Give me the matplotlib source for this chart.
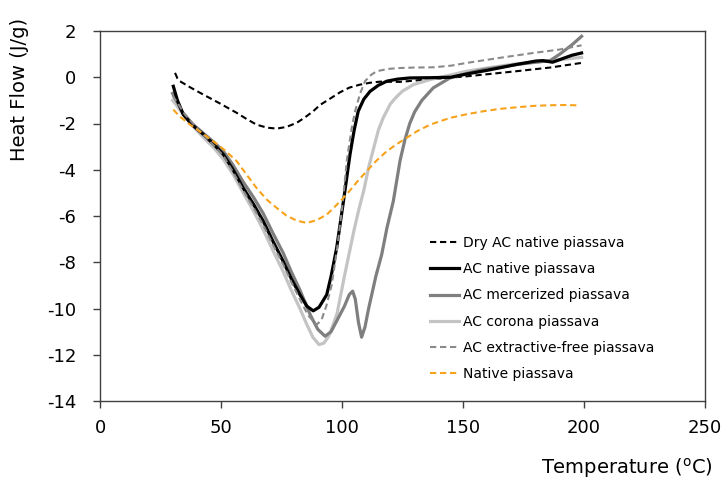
import matplotlib
matplotlib.use("Agg")
import matplotlib.pyplot as plt

plt.rcParams['font.family'] = ['DejaVu Sans']
plt.rcParams['axes.unicode_minus'] = False
plt.rcParams['mathtext.default'] = 'regular'

# ---- data ----
dry_t = [31, 32, 33, 37.5, 42.7, 49.5, 56.5, 60.5, 64.7, 69, 73, 77, 81.3, 84.5, 88.1, 90.9, 95, 99.2,
         103, 107.4, 111.5, 115.7, 124, 137, 151.5, 160, 172, 186, 199]
dry_v = [0.19, -0.05, -0.17, -0.45, -0.75, -1.13, -1.54, -1.8, -2.05, -2.18, -2.22, -2.15, -1.97, -1.75,
         -1.47, -1.2, -0.93, -0.65, -0.45, -0.32, -0.24, -0.19, -0.2, -0.08, 0.04, 0.13, 0.26, 0.42, 0.62]

acn_t = [30.3, 32, 34.4, 38, 42.7, 47, 51, 55, 59.2, 63.5, 67.5, 71.5, 75.7, 79, 82.6, 85.5, 88.1, 90.5,
         93.7, 95.5, 97.8, 100.6, 103.3, 105, 106.7, 109, 111.6, 115, 118.5, 123, 128, 136, 145, 151.5,
         160, 172, 180, 183, 187, 191, 195, 199]
acn_v = [-0.39, -1.0, -1.61, -2.05, -2.47, -2.9, -3.34, -4.0, -4.79, -5.5, -6.23, -7.1, -7.96, -8.7, -9.4,
         -9.9, -10.1, -9.95, -9.4, -8.6, -7.38, -5.36, -3.34, -2.3, -1.47, -0.95, -0.61, -0.35, -0.17, -0.08,
         -0.03, -0.02, 0.0, 0.14, 0.3, 0.55, 0.7, 0.72, 0.65, 0.8, 0.95, 1.05]

mer_t = [30, 31, 34, 38, 43, 47, 51, 55, 59, 63.5, 67.5, 71.5, 75.7, 79, 82.6, 87, 90, 93, 95.5, 98, 101,
         103, 104.4, 105.5, 106.8, 108.1, 109.5, 111, 112.3, 114, 116.4, 118.6, 121.2, 124, 126, 128, 130,
         133, 137.7, 144.6, 151, 158.4, 172, 181, 186, 190, 195, 199]
mer_v = [-0.7, -0.9, -1.5, -2.0, -2.45, -2.8, -3.2, -3.8, -4.5, -5.2, -5.9, -6.75, -7.6, -8.4, -9.2, -10.3,
         -10.9, -11.2, -11.0, -10.5, -9.9, -9.4, -9.25, -9.6, -10.6, -11.24, -10.8, -10.0, -9.4, -8.6, -7.67,
         -6.5, -5.36, -3.6, -2.7, -2.0, -1.5, -1.0, -0.46, -0.03, 0.15, 0.33, 0.55, 0.66, 0.72, 1.0, 1.4, 1.77]

cor_t = [30, 31.5, 34, 37, 42.7, 47, 51, 55, 59.2, 63.5, 67.5, 71.5, 75.7, 79, 82.6, 85.5, 88, 90.5, 92.5,
         94.5, 96, 98, 101, 103, 105, 107, 109, 111, 113, 115, 117, 120, 122.5, 125, 129.5, 136.4, 145,
         151.5, 160, 172, 186, 199]
cor_v = [-1.0, -1.2, -1.55, -1.95, -2.6, -3.05, -3.55, -4.2, -5.0, -5.8, -6.6, -7.5, -8.4, -9.2, -10.0,
         -10.7, -11.25, -11.56, -11.5, -11.2, -10.8, -10.2, -8.6, -7.6, -6.6, -5.7, -4.9, -3.9, -3.1, -2.3,
         -1.76, -1.15, -0.85, -0.6, -0.32, -0.1, 0.1, 0.26, 0.4, 0.58, 0.72, 0.86]

ext_t = [30, 32, 35, 42.7, 47, 51, 55, 59.2, 63.5, 67.5, 71.5, 75.7, 79, 82.6, 86, 89.5, 91.5, 93.5, 95.7,
         98, 100, 102, 104, 105.4, 107.5, 109.5, 112, 114.3, 119, 124, 130, 137.7, 145, 151.5, 165.3, 179,
         190, 199]
ext_v = [-0.8, -1.1, -1.6, -2.5, -2.95, -3.4, -4.1, -4.9, -5.65, -6.4, -7.25, -8.1, -8.85, -9.6, -10.3,
         -10.7, -10.5, -9.9, -9.0, -7.4, -5.7, -3.6, -2.2, -1.47, -0.7, -0.17, 0.1, 0.26, 0.36, 0.4, 0.42,
         0.43, 0.5, 0.62, 0.84, 1.05, 1.2, 1.38]

nat_t = [30.3, 33, 37.2, 42, 46.8, 51.5, 56.5, 60.5, 64.7, 69, 73, 77, 81.3, 85.4, 89.5, 93.7, 97.5, 101.9,
         106, 110.2, 114.3, 118.5, 122.5, 126.7, 130.9, 136.4, 144.6, 151.5, 158.4, 165, 172, 179, 186, 193,
         198.3]
nat_v = [-1.4, -1.7, -2.05, -2.4, -2.77, -3.15, -3.63, -4.2, -4.79, -5.3, -5.65, -5.98, -6.2, -6.3, -6.18,
         -5.94, -5.55, -5.07, -4.55, -4.06, -3.6, -3.2, -2.9, -2.62, -2.34, -2.05, -1.76, -1.6, -1.47, -1.37,
         -1.3, -1.24, -1.21, -1.2, -1.22]

labels = ["Dry AC native piassava", "AC native piassava", "AC mercerized piassava",
          "AC corona piassava", "AC extractive-free piassava", "Native piassava"]
x_ticks = [0, 50, 100, 150, 200, 250]
y_ticks = [2, 0, -2, -4, -6, -8, -10, -12, -14]

# ---- figure ----
fig = plt.figure(figsize=(7.24, 4.82), dpi=100)
ax = fig.add_axes([100 / 724, 1 - 401 / 482, 605 / 724, 370 / 482])

ax.plot(dry_t, dry_v, color='black', lw=1.5, ls=(0, (3, 1.8)), label=labels[0], zorder=3)
ax.plot(acn_t, acn_v, color='black', lw=2.3, label=labels[1], zorder=5)
ax.plot(mer_t, mer_v, color='#7f7f7f', lw=2.3, label=labels[2], zorder=4)
ax.plot(cor_t, cor_v, color='#c4c4c4', lw=2.3, label=labels[3], zorder=3)
ax.plot(ext_t, ext_v, color='#8a8a8a', lw=1.5, ls=(0, (3, 1.8)), label=labels[4], zorder=6)
ax.plot(nat_t, nat_v, color='#f7a21b', lw=1.5, ls=(0, (3, 1.8)), label=labels[5], zorder=6)

ax.set_xlim(0, 250)
ax.set_ylim(-14, 2)
ax.set_xticks(x_ticks)
ax.set_yticks(y_ticks)
ax.tick_params(axis='both', labelsize=13, length=5, width=1, color='#404040')
ax.tick_params(axis='y', pad=12)
ax.tick_params(axis='x', pad=8)
for s in ax.spines.values():
    s.set_color('#404040')
    s.set_linewidth(1)

fig.text(20 / 724, 1 - 89 / 482, "Heat Flow (J/g)", rotation=90, ha='center', va='center', fontsize=14)
fig.text(713 / 724, 1 - 468 / 482, "Temperature ($^{o}$C)", ha='right', va='center', fontsize=14)

leg = ax.legend(loc='upper left', bbox_to_anchor=(430 / 724, 1 - 236 / 482), bbox_transform=fig.transFigure,
                frameon=False, fontsize=10, handlelength=2.1, handletextpad=0.25, labelspacing=0.88,
                borderpad=0, borderaxespad=0)

fig.savefig("out.png", dpi=100)
